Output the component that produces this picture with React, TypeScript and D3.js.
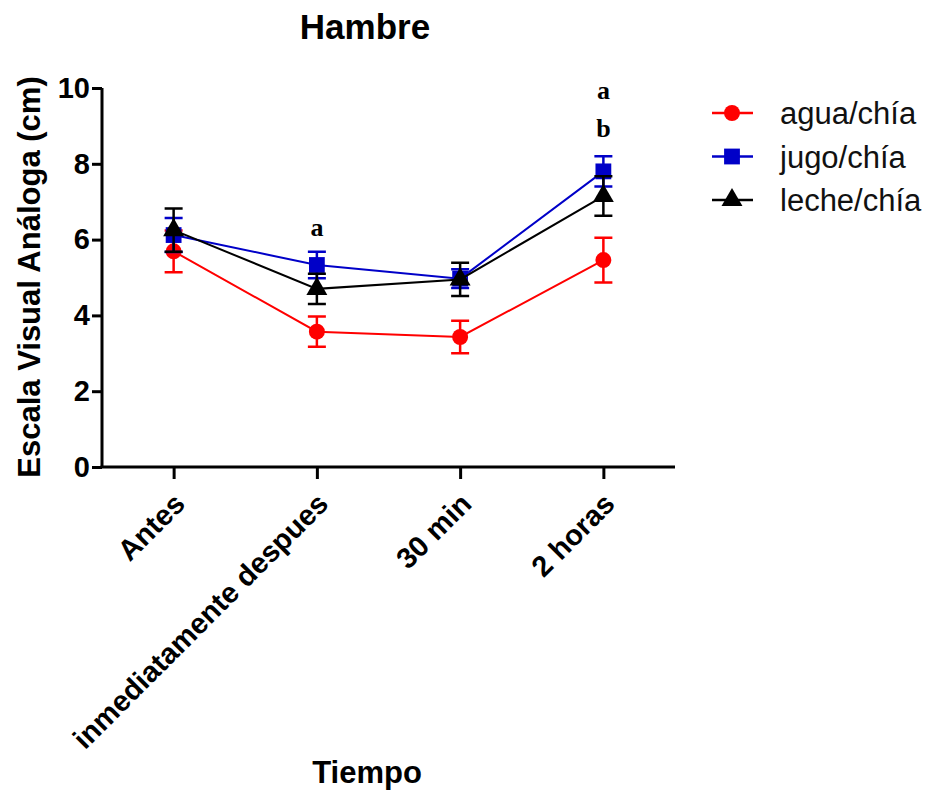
import React, { useEffect, useRef } from 'react';
import * as d3 from 'd3';

const categories = ['Antes', 'inmediatamente despues', '30 min', '2 horas'];
const seriesNames = ['agua/chía', 'jugo/chía', 'leche/chía'];
const aguaMean = [5.69, 3.57, 3.43, 5.46];
const aguaSem = [0.55, 0.4, 0.43, 0.59];
const jugoMean = [6.12, 5.33, 4.97, 7.8];
const jugoSem = [0.45, 0.35, 0.25, 0.4];
const lecheMean = [6.25, 4.7, 4.95, 7.15];
const lecheSem = [0.57, 0.4, 0.44, 0.52];
const yTicks = [0, 2, 4, 6, 8, 10];
const annotCats = ['inmediatamente despues', '2 horas', '2 horas'];
const annotValues = [6.1, 9.71, 8.71];
const annotTexts = ['a', 'a', 'b'];

const colors = ['#ff0000', '#0000c8', '#000000'];
const symbols = [d3.symbolCircle, d3.symbolSquare, d3.symbolTriangle];
const symSizes = [200, 250, 190];

const App = () => {
    const ref = useRef<SVGSVGElement>(null);
    useEffect(() => {
        document.body.style.margin = '0';
        const svg = d3.select(ref.current);
        svg.selectAll('*').remove();

        const x = d3.scalePoint().domain(categories).range([102, 675]).padding(0.5);
        const y = d3.scaleLinear().domain([0, 10]).range([467, 88]);

        const series = [
            { name: seriesNames[0], mean: aguaMean, sem: aguaSem },
            { name: seriesNames[1], mean: jugoMean, sem: jugoSem },
            { name: seriesNames[2], mean: lecheMean, sem: lecheSem },
        ];

        // title
        svg.append('text')
            .attr('x', 365).attr('y', 39)
            .attr('text-anchor', 'middle')
            .attr('font-family', 'Liberation Sans, Arial')
            .attr('font-weight', 'bold').attr('font-size', 35)
            .text('Hambre');

        // y axis
        const yAxis = svg.append('g')
            .attr('transform', 'translate(102,0)')
            .call(d3.axisLeft(y).tickValues(yTicks).tickSize(10).tickSizeOuter(0).tickPadding(2));
        yAxis.select('.domain').attr('stroke-width', 3).attr('d', `M0,${y(10)}V${y(0)}`);
        yAxis.selectAll('.tick line').attr('stroke-width', 3);
        yAxis.selectAll('.tick text')
            .attr('font-family', 'Liberation Sans, Arial')
            .attr('font-weight', 'bold').attr('font-size', 29)
            .attr('fill', '#000');

        // x axis
        const xAxis = svg.append('g')
            .attr('transform', 'translate(0,467)')
            .call(d3.axisBottom(x).tickSize(12).tickSizeOuter(0));
        xAxis.select('.domain').attr('stroke-width', 3).attr('d', `M100.5,0H675`);
        xAxis.selectAll('.tick line').attr('stroke-width', 3);
        xAxis.selectAll('.tick text')
            .attr('font-family', 'Liberation Sans, Arial')
            .attr('font-weight', 'bold').attr('font-size', 29)
            .attr('fill', '#000')
            .attr('text-anchor', 'end')
            .attr('dy', 0)
            .attr('transform', 'translate(2,28) rotate(-45)');

        // axis titles
        svg.append('text')
            .attr('transform', `translate(40,${277}) rotate(-90)`)
            .attr('text-anchor', 'middle')
            .attr('font-family', 'Liberation Sans, Arial')
            .attr('font-weight', 'bold').attr('font-size', 31)
            .text('Escala Visual Análoga (cm)');
        svg.append('text')
            .attr('x', 367).attr('y', 783)
            .attr('text-anchor', 'middle')
            .attr('font-family', 'Liberation Sans, Arial')
            .attr('font-weight', 'bold').attr('font-size', 31)
            .text('Tiempo');

        // series
        const line = d3.line<number>()
            .x((d, i) => x(categories[i]) as number)
            .y(d => y(d));
        series.forEach((s, k) => {
            const g = svg.append('g');
            g.append('path')
                .datum(s.mean)
                .attr('fill', 'none')
                .attr('stroke', colors[k])
                .attr('stroke-width', 2)
                .attr('d', line);
            s.mean.forEach((m, i) => {
                const cx = x(categories[i]) as number;
                const lo = y(m - s.sem[i]);
                const hi = y(m + s.sem[i]);
                g.append('path')
                    .attr('fill', 'none')
                    .attr('stroke', colors[k])
                    .attr('stroke-width', 2.5)
                    .attr('d', `M${cx},${lo}V${hi}M${cx - 9},${lo}H${cx + 9}M${cx - 9},${hi}H${cx + 9}`);
                g.append('path')
                    .attr('transform', `translate(${cx},${y(m)})`)
                    .attr('fill', colors[k])
                    .attr('d', d3.symbol().type(symbols[k]).size(symSizes[k])());
            });
        });

        // significance letters
        annotTexts.forEach((t, i) => {
            svg.append('text')
                .attr('x', x(annotCats[i]) as number)
                .attr('y', y(annotValues[i]))
                .attr('text-anchor', 'middle')
                .attr('font-family', 'Liberation Serif, Times New Roman')
                .attr('font-weight', 'bold').attr('font-size', 26)
                .text(t);
        });

        // legend
        series.forEach((s, k) => {
            const ly = 113 + k * 43.5;
            const lg = svg.append('g').attr('transform', `translate(0,${ly})`);
            lg.append('line')
                .attr('x1', 712).attr('x2', 753)
                .attr('stroke', colors[k]).attr('stroke-width', 2.5);
            lg.append('path')
                .attr('transform', 'translate(732,0)')
                .attr('fill', colors[k])
                .attr('d', d3.symbol().type(symbols[k]).size(symSizes[k])());
            lg.append('text')
                .attr('x', 780).attr('y', 11)
                .attr('font-family', 'Liberation Sans, Arial')
                .attr('font-size', 31)
                .attr('fill', '#111')
                .text(s.name);
        });
    }, []);
    return (
        <svg ref={ref} width={926} height={791} style={{ display: 'block', background: '#fff' }}></svg>
    );
};

export default App;
